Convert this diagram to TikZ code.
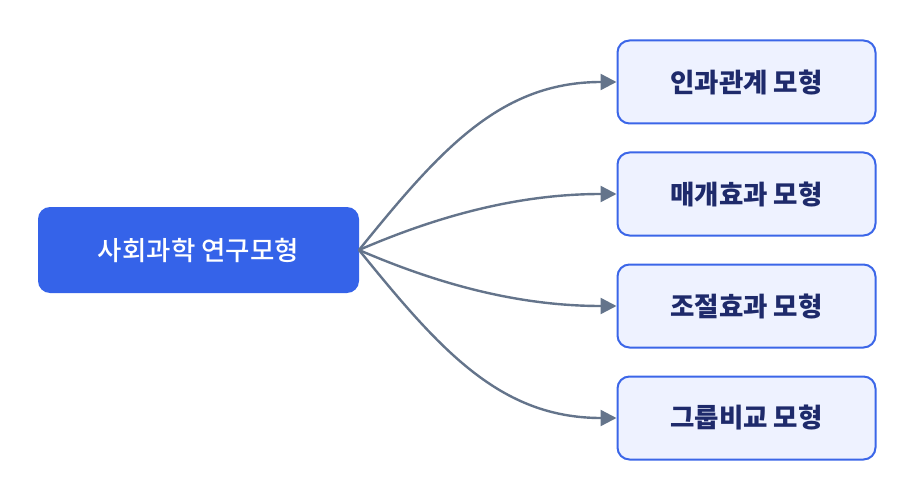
\documentclass[tikz,border=0pt]{standalone}
\usepackage{fontspec}
\setmainfont{Noto Sans CJK KR}
\newfontfamily\medfont{Noto Sans CJK KR Medium}
\usetikzlibrary{arrows.meta}
\definecolor{mainblue}{HTML}{3563E9}
\definecolor{leaffill}{HTML}{EEF2FF}
\definecolor{leafdraw}{HTML}{3B66E8}
\definecolor{leaftext}{HTML}{1E2A6B}
\definecolor{edgecol}{HTML}{64748B}
\begin{document}
\begin{tikzpicture}[x=1pt,y=-1pt,
  rootbox/.style={fill=mainblue,draw=none,rounded corners=12pt,minimum width=321pt,minimum height=86pt,text=white,font=\fontsize{26.5}{29}\medfont,inner sep=0pt},
  leafbox/.style={fill=leaffill,draw=leafdraw,line width=2pt,rounded corners=12pt,minimum width=258pt,minimum height=83pt,text=leaftext,font=\fontsize{26.5}{29}\selectfont\bfseries,inner sep=0pt},
  edge/.style={draw=edgecol,line width=2.4pt,-{Triangle[length=16pt,width=16pt]}}]
\useasboundingbox (0,0) rectangle (916,500);
\node[rootbox] (root) at (198.5,250) {사회과학 연구모형};
\node[leafbox] (a) at (746.5,82) {인과관계 모형};
\node[leafbox] (b) at (746.5,194) {매개효과 모형};
\node[leafbox] (c) at (746.5,306) {조절효과 모형};
\node[leafbox] (d) at (746.5,418) {그룹비교 모형};
\coordinate (s) at (359,250);
\draw[edge] (s) .. controls (440,150) and (500,82) .. (a.west);
\draw[edge] (s) .. controls (440,215) and (520,194) .. (b.west);
\draw[edge] (s) .. controls (440,285) and (520,306) .. (c.west);
\draw[edge] (s) .. controls (440,350) and (500,418) .. (d.west);
\end{tikzpicture}
\end{document}
